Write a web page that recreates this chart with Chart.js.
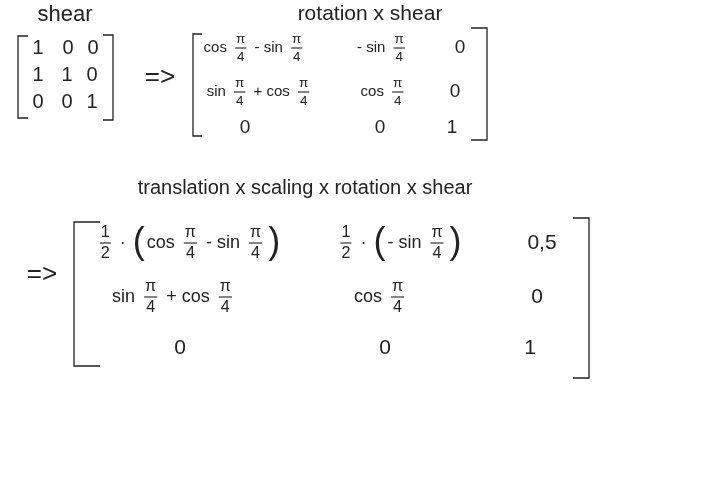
<!DOCTYPE html>
<html>
<head>
<meta charset="utf-8">
<script src="https://cdn.jsdelivr.net/npm/chart.js@4"></script>
<style>
  html, body { margin: 0; padding: 0; background: #fff; }
  #wrap { width: 720px; height: 480px; }
</style>
</head>
<body>
<div id="wrap"><canvas id="noteChart" width="720" height="480"></canvas></div>
<script>
// matrix contents ({a/b} = stacked fraction)
const titles = ['shear', 'rotation x shear', 'translation x scaling x rotation x shear'];
const shearRows = [
    ['1', '0', '0'],
    ['1', '1', '0'],
    ['0', '0', '1']
];
const rotShearRows = [
    ['cos {π/4} - sin {π/4}', '- sin {π/4}', '0'],
    ['sin {π/4} + cos {π/4}', 'cos {π/4}', '0'],
    ['0', '0', '1']
];
const fullRows = [
    ['{1/2} · (cos {π/4} - sin {π/4})', '{1/2} · (- sin {π/4})', '0,5'],
    ['sin {π/4} + cos {π/4}', 'cos {π/4}', '0'],
    ['0', '0', '1']
];
const arrowText = '=>';

// layout of the page (in scale units = pixels)
const layout = {
    titles: [{ x: 65, y: 15, size: 22 }, { x: 370, y: 14, size: 21 }, { x: 305, y: 188, size: 20 }],
    matrices: [
        { rows: shearRows, size: 20, digit: 20, ys: [48, 75, 102],
          xs: [[38, 68, 93], [38, 67, 92], [38, 67, 92]],
          left: { x: 18, top: 36, bottom: 118, serif: 10 },
          right: { x: 113, top: 35, bottom: 120, serif: -10 } },
        { rows: rotShearRows, size: 15, digit: 19, ys: [48, 92, 128],
          xs: [[255, 383, 460], [260, 384, 455], [245, 380, 452]],
          left: { x: 193, top: 34, bottom: 136, serif: 9 },
          right: { x: 487, top: 28, bottom: 140, serif: -16 } },
        { rows: fullRows, size: 18, digit: 21, ys: [243, 297, 348],
          xs: [[189, 400, 542], [174, 381, 537], [180, 385, 530]],
          left: { x: 74, top: 222, bottom: 366, serif: 26 },
          right: { x: 589, top: 218, bottom: 378, serif: -16 } }
    ],
    arrows: [{ x: 160, y: 78 }, { x: 42, y: 275 }]
};

const INK = '#222';
const FONT = '"Liberation Sans", "DejaVu Sans", sans-serif';

function bracketPoints(b) {
    return [
        { x: b.x + b.serif, y: b.top },
        { x: b.x, y: b.top },
        { x: b.x, y: b.bottom },
        { x: b.x + b.serif, y: b.bottom }
    ];
}

const bracketSets = [];
layout.matrices.forEach(m => {
    [m.left, m.right].forEach(b => {
        bracketSets.push({
            data: bracketPoints(b),
            showLine: true,
            borderColor: INK,
            borderWidth: 1.3,
            pointRadius: 0,
            fill: false,
            tension: 0
        });
    });
});

function parseCell(s) {
    const parts = [];
    const re = /\{([^\/}]+)\/([^}]+)\}|([()])|([^{()]+)/g;
    let m;
    while ((m = re.exec(s)) !== null) {
        if (m[1] !== undefined) parts.push({ type: 'frac', num: m[1], den: m[2] });
        else if (m[3] !== undefined) parts.push({ type: 'paren', text: m[3] });
        else parts.push({ type: 'text', text: m[4] });
    }
    return parts;
}

function partWidth(ctx, p, fs) {
    if (p.type === 'frac') {
        ctx.font = (fs * 0.9) + 'px ' + FONT;
        return Math.max(ctx.measureText(p.num).width, ctx.measureText(p.den).width) + 10;
    }
    if (p.type === 'paren') {
        ctx.font = (fs * 2) + 'px ' + FONT;
        return ctx.measureText(p.text).width + 4;
    }
    ctx.font = fs + 'px ' + FONT;
    return ctx.measureText(p.text).width;
}

function drawCell(ctx, str, cx, cy, fs) {
    const parts = parseCell(str);
    const widths = parts.map(p => partWidth(ctx, p, fs));
    const total = widths.reduce((a, b) => a + b, 0);
    let x = cx - total / 2;
    ctx.textBaseline = 'middle';
    ctx.textAlign = 'left';
    parts.forEach((p, i) => {
        const w = widths[i];
        if (p.type === 'frac') {
            const small = fs * 0.9;
            ctx.font = small + 'px ' + FONT;
            ctx.textAlign = 'center';
            ctx.fillText(p.num, x + w / 2, cy - small * 0.62);
            ctx.fillText(p.den, x + w / 2, cy + small * 0.68);
            ctx.beginPath();
            ctx.moveTo(x + 4, cy);
            ctx.lineTo(x + w - 4, cy);
            ctx.lineWidth = 1.1;
            ctx.strokeStyle = INK;
            ctx.stroke();
            ctx.textAlign = 'left';
        } else if (p.type === 'paren') {
            ctx.font = (fs * 2) + 'px ' + FONT;
            ctx.fillText(p.text, x + 2, cy);
        } else {
            ctx.font = fs + 'px ' + FONT;
            ctx.fillText(p.text, x, cy);
        }
        x += w;
    });
}

const notePlugin = {
    id: 'notes',
    afterDatasetsDraw(chart) {
        const ctx = chart.ctx;
        const sx = chart.scales.x, sy = chart.scales.y;
        ctx.save();
        ctx.fillStyle = INK;

        titles.forEach((t, i) => {
            const pos = layout.titles[i];
            ctx.font = pos.size + 'px ' + FONT;
            ctx.textAlign = 'center';
            ctx.textBaseline = 'middle';
            ctx.fillText(t, sx.getPixelForValue(pos.x), sy.getPixelForValue(pos.y));
        });

        layout.matrices.forEach(m => {
            m.rows.forEach((row, r) => {
                row.forEach((cell, c) => {
                    const fs = /^[0-9,]+$/.test(cell) ? m.digit : m.size;
                    drawCell(ctx, cell, sx.getPixelForValue(m.xs[r][c]), sy.getPixelForValue(m.ys[r]), fs);
                });
            });
        });

        layout.arrows.forEach(a => {
            ctx.font = '26px ' + FONT;
            ctx.textAlign = 'center';
            ctx.textBaseline = 'middle';
            ctx.fillText(arrowText, sx.getPixelForValue(a.x), sy.getPixelForValue(a.y));
        });
        ctx.restore();
    }
};

new Chart(document.getElementById('noteChart'), {
    type: 'scatter',
    data: { datasets: bracketSets },
    options: {
        responsive: false,
        animation: false,
        devicePixelRatio: 1,
        layout: { padding: 0 },
        plugins: { legend: { display: false }, tooltip: { enabled: false } },
        scales: {
            x: { type: 'linear', min: 0, max: 720, display: false },
            y: { type: 'linear', min: 0, max: 480, reverse: true, display: false }
        }
    },
    plugins: [notePlugin]
});
</script>
</body>
</html>
